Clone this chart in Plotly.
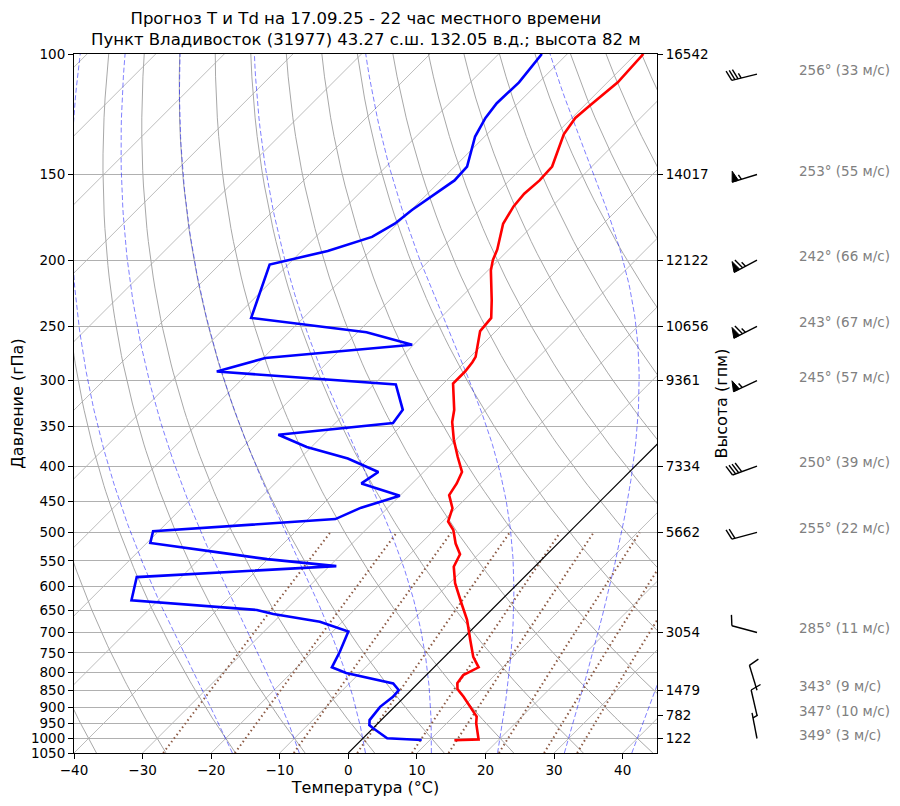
# Skew-T / log-P diagram for Vladivostok, 17.09.25 22h local time
import numpy as np
import plotly.graph_objects as go

# ========= 1. Data read off the sounding =========
# temperature profile (hPa, degC), top -> bottom
temp_p = [100, 110, 119, 124, 131, 146, 153, 160, 167, 177,
          193, 200, 207, 216, 229, 243, 254, 277, 282, 291,
          303, 331, 345, 366, 388, 408, 424, 441, 461, 482,
          496, 519, 538, 561, 593, 635, 671, 718, 760, 787,
          808, 830, 847, 869, 899, 929, 950, 972, 1003, 1006]
temp_c = [-58.9, -58.5, -59.2, -59.5, -58.8, -55.8, -55.6, -55.9, -55.6, -54.6,
          -51.7, -50.8, -49.6, -47.7, -45.1, -42.6, -42.3, -39.2, -38.9, -38.6,
          -38.6, -34.6, -33.1, -30.3, -27.2, -24.4, -23.5, -22.9, -20.5, -19.2,
          -17.2, -14.9, -12.7, -11.8, -9.2, -5.3, -2.1, 1.3, 4.2, 6.5,
          5.4, 5.7, 6.6, 8.6, 11.0, 13.4, 14.3, 15.4, 17.0, 13.6]

# dew point profile (hPa, degC), top -> bottom
dew_p = [100, 110, 118, 124, 132, 146, 153, 161, 169, 177,
         185, 194, 203, 243, 255, 266, 278, 291, 304, 331,
         346, 360, 375, 390, 408, 424, 442, 460, 478, 498,
         518, 536, 547, 560, 581, 628, 649, 658, 675, 698,
         747, 787, 802, 831, 850, 869, 899, 940, 956, 966,
         999, 1005]
dew_c = [-73.7, -72.9, -73.1, -72.6, -71.4, -68.2, -68.0, -69.0, -69.9, -70.4,
         -71.8, -76.2, -82.7, -77.6, -58.7, -50.2, -69.7, -74.8, -46.8, -42.1,
         -41.6, -56.6, -50.7, -43.0, -36.6, -37.4, -30.0, -33.9, -36.0, -60.8,
         -59.5, -47.3, -40.1, -29.0, -56.5, -53.9, -34.2, -31.2, -23.3, -17.7,
         -16.0, -14.9, -12.0, -3.6, -1.8, -1.7, -2.1, -1.7, -1.0, 0.0,
         3.5, 8.8]

# geopotential heights shown on the right axis
height_p = [100, 150, 200, 250, 300, 400, 500, 700, 850, 925, 1000]
height_m = [16542, 14017, 12122, 10656, 9361, 7334, 5662, 3054, 1479, 782, 122]

# wind barbs (level they are drawn at, direction deg, speed m/s)
wind_p = [107, 150, 200, 250, 300, 400, 500, 700, 850, 925, 1000]
wind_dir = [256, 253, 242, 243, 245, 250, 255, 285, 343, 347, 349]
wind_spd = [33, 55, 66, 67, 57, 39, 22, 11, 9, 10, 3]

pressure_ticks = list(range(100, 1051, 50))
temp_ticks = list(range(-40, 41, 10))

# guide lines of the diagram
dry_theta = np.arange(-40, 201, 10)          # dry adiabats, degC at 1000 hPa
moist_t0 = np.arange(-20, 41, 10)            # moist adiabats, degC at 1000 hPa
mixing_ratios = [0.0004, 0.001, 0.002, 0.004, 0.007, 0.01, 0.016, 0.024, 0.032]

# ========= 2. Geometry of the skewed axes =========
P_BOT, P_TOP = 1050.0, 100.0
T_MIN, T_MAX = -40.0, 45.0
# the page adds an 8px body margin, so the figure is 8px smaller than the window
FIG_W, FIG_H = 892, 798
M_L, M_R, M_T, M_B = 66, 10, 46, 53
plot_w = FIG_W - M_L - M_R
plot_h = FIG_H - M_T - M_B
skew_w = 583                                    # px width of the skew-T panel
px_per_deg = skew_w / (T_MAX - T_MIN)
px_per_dec = plot_h / np.log10(P_BOT / P_TOP)
SKEW = px_per_dec / px_per_deg                  # 45 degree isotherms


def skew_x(t, p):
    return np.asarray(t, dtype=float) + SKEW * np.log10(P_BOT / np.asarray(p, dtype=float))


def join(segments):
    # glue several polylines into one trace, separated by None
    xs, ys = [], []
    for sx, sy in segments:
        xs += list(sx) + [None]
        ys += list(sy) + [None]
    return xs, ys


# thermodynamics for the background curves
RD, CPD, LV, EPS = 287.04749, 1004.6662, 2.50084e6, 0.6219569


def sat_vp(tk):
    return 6.112 * np.exp(17.67 * (tk - 273.15) / (tk - 29.65))


def moist_dtdp(p, tk):
    es = sat_vp(tk)
    rs = EPS * es / (p - es)
    return (RD * tk + LV * rs) / (CPD + LV * LV * rs * EPS / (RD * tk * tk)) / p


def moist_curve(t0, plist):
    tk = t0 + 273.15
    out = [tk]
    for pa, pb in zip(plist[:-1], plist[1:]):
        h = pb - pa
        k1 = moist_dtdp(pa, tk)
        k2 = moist_dtdp(pa + h / 2, tk + h / 2 * k1)
        k3 = moist_dtdp(pa + h / 2, tk + h / 2 * k2)
        k4 = moist_dtdp(pb, tk + h * k3)
        tk = tk + h / 6 * (k1 + 2 * k2 + 2 * k3 + k4)
        out.append(tk)
    return np.array(out) - 273.15


fig = go.Figure()

# ---- isotherms ----
segs = []
for t in range(-150, 50, 10):
    if t == 0:
        continue
    segs.append((skew_x([t, t], [P_BOT, P_TOP]), [P_BOT, P_TOP]))
xs, ys = join(segs)
fig.add_trace(go.Scatter(x=xs, y=ys, mode="lines", line=dict(color="#b4b4b4", width=0.9),
                         hoverinfo="skip", showlegend=False))

# ---- dry adiabats ----
p_line = np.linspace(P_BOT, P_TOP, 120)
segs = []
for th in dry_theta:
    t = (th + 273.15) * (p_line / 1000.0) ** (RD / CPD) - 273.15
    segs.append((skew_x(t, p_line), p_line))
xs, ys = join(segs)
fig.add_trace(go.Scatter(x=xs, y=ys, mode="lines", line=dict(color="#a8a8a8", width=1),
                         hoverinfo="skip", showlegend=False))

# ---- moist adiabats ----
p_up = np.linspace(1000, P_TOP, 226)
p_down = np.linspace(1000, P_BOT, 11)
segs = []
for t0 in moist_t0:
    t_up = moist_curve(t0, p_up)
    t_dn = moist_curve(t0, p_down)
    pp = np.concatenate([p_down[::-1], p_up[1:]])
    tt = np.concatenate([t_dn[::-1], t_up[1:]])
    segs.append((skew_x(tt, pp), pp))
xs, ys = join(segs)
fig.add_trace(go.Scatter(x=xs, y=ys, mode="lines",
                         line=dict(color="rgba(0,0,255,0.5)", width=1, dash="5px,2.5px"),
                         hoverinfo="skip", showlegend=False))

# ---- mixing ratio lines ----
p_mix = np.linspace(P_BOT, 500, 40)
segs = []
for w in mixing_ratios:
    e = p_mix * w / (EPS + w)
    lnr = np.log(e / 6.112)
    td = 243.5 * lnr / (17.67 - lnr)
    segs.append((skew_x(td, p_mix), p_mix))
xs, ys = join(segs)
fig.add_trace(go.Scatter(x=xs, y=ys, mode="lines",
                         line=dict(color="#8c5a44", width=2, dash="1.5px,3px"),
                         hoverinfo="skip", showlegend=False))

# ---- 0 degC isotherm ----
fig.add_trace(go.Scatter(x=skew_x([0, 0], [P_BOT, P_TOP]), y=[P_BOT, P_TOP], mode="lines",
                         line=dict(color="black", width=1.1), hoverinfo="skip", showlegend=False))

# ---- profiles ----
fig.add_trace(go.Scatter(x=skew_x(temp_c, temp_p), y=temp_p, mode="lines",
                         line=dict(color="red", width=2.6), name="T", showlegend=False))
fig.add_trace(go.Scatter(x=skew_x(dew_c, dew_p), y=dew_p, mode="lines",
                         line=dict(color="blue", width=2.6), name="Td", showlegend=False))

# ========= 3. Wind barbs (matplotlib-like, speeds rounded to 5) =========
BARB_X = 100            # station position inside the barb column, px
BARB_LEN = 26.0
full_h = 0.4 * BARB_LEN
full_w = 0.25 * BARB_LEN
spacing = 0.125 * BARB_LEN

line_segs, flag_segs = [], []
for p0, d, s in zip(wind_p, wind_dir, wind_spd):
    rad = np.radians(d)

    def to_xy(pts):
        xx, yy = [], []
        for lx, ly in pts:
            east = ly * np.sin(rad) + lx * np.cos(rad)
            north = ly * np.cos(rad) - lx * np.sin(rad)
            xx.append(BARB_X + east)
            yy.append(p0 * 10 ** (-north / px_per_dec))
        return xx, yy

    mag = 5 * np.round(s / 5)
    n_flag, rest = divmod(mag, 50)
    n_barb, rest = divmod(rest, 10)
    half = rest >= 5
    line_segs.append(to_xy([(0, 0), (0, BARB_LEN)]))
    off = BARB_LEN
    for i in range(int(n_flag)):
        if off != BARB_LEN:
            off += spacing / 2
        flag_segs.append(to_xy([(0, off), (full_h, off - full_w / 2), (0, off - full_w), (0, off)]))
        off -= full_w + spacing
    for i in range(int(n_barb)):
        line_segs.append(to_xy([(0, off), (full_h, off + full_w / 2)]))
        off -= spacing
    if half:
        if off == BARB_LEN:
            off -= 1.5 * spacing
        line_segs.append(to_xy([(0, off), (full_h / 2, off + full_w / 4)]))

xs, ys = join(line_segs)
fig.add_trace(go.Scatter(x=xs, y=ys, xaxis="x3", yaxis="y3", mode="lines",
                         line=dict(color="black", width=1.4), hoverinfo="skip", showlegend=False))
xs, ys = join(flag_segs)
fig.add_trace(go.Scatter(x=xs, y=ys, xaxis="x3", yaxis="y3", mode="lines", fill="toself",
                         fillcolor="black", line=dict(color="black", width=1),
                         hoverinfo="skip", showlegend=False))

for p0, d, s in zip(wind_p, wind_dir, wind_spd):
    fig.add_annotation(x=BARB_X + 40, y=np.log10(p0), xref="x3", yref="y3",
                       text=f"{d}° ({s} м/с)", showarrow=False, xanchor="left",
                       yanchor="middle", yshift=4, font=dict(color="#808080", size=13.5))

# ========= 4. Layout =========
log_rng = [np.log10(P_BOT), np.log10(P_TOP)]
dom = skew_w / plot_w
axis_font = dict(family="DejaVu Sans", size=13.5, color="black")

fig.add_annotation(
    x=dom / 2, y=1, xref="paper", yref="paper", yanchor="bottom", yshift=3, showarrow=False,
    text="Прогноз T и Td на 17.09.25 - 22 час местного времени<br>"
         "Пункт Владивосток (31977) 43.27 с.ш. 132.05 в.д.; высота 82 м",
    font=dict(family="DejaVu Sans", size=16.5, color="black"))

fig.update_layout(
    width=FIG_W, height=FIG_H,
    margin=dict(l=M_L, r=M_R, t=M_T, b=M_B, autoexpand=False),
    paper_bgcolor="white", plot_bgcolor="white",
    font=axis_font,
    showlegend=False,
    xaxis=dict(domain=[0, dom], range=[T_MIN, T_MAX], tickvals=temp_ticks,
               ticks="outside", ticklen=5, tickcolor="black", showline=True, mirror=True,
               linecolor="black", linewidth=1, showgrid=False, zeroline=False,
               title=dict(text="Температура (°C)", standoff=4)),
    yaxis=dict(type="log", range=log_rng, tickvals=pressure_ticks,
               ticktext=[str(v) for v in pressure_ticks],
               ticks="outside", ticklen=5, tickcolor="black", showline=True, mirror=True,
               linecolor="black", linewidth=1, showgrid=True, gridcolor="#b0b0b0",
               gridwidth=0.9, zeroline=False,
               title=dict(text="Давление (гПа)", standoff=4)),
    yaxis2=dict(type="log", range=log_rng, overlaying="y", side="right", anchor="x",
                tickvals=height_p, ticktext=[str(v) for v in height_m],
                ticks="outside", ticklen=5, tickcolor="black", showgrid=False,
                zeroline=False, showline=False,
                title=dict(text="Высота (гпм)", standoff=8)),
    xaxis3=dict(domain=[dom, 1], range=[0, plot_w - skew_w], anchor="y3", visible=False,
                fixedrange=True),
    yaxis3=dict(type="log", range=log_rng, anchor="x3", visible=False, fixedrange=True),
)

# dummy trace so the right height axis is drawn
fig.add_trace(go.Scatter(x=[T_MIN], y=[P_BOT], yaxis="y2", mode="markers",
                         marker=dict(opacity=0), hoverinfo="skip", showlegend=False))

fig.write_html("out.html")
